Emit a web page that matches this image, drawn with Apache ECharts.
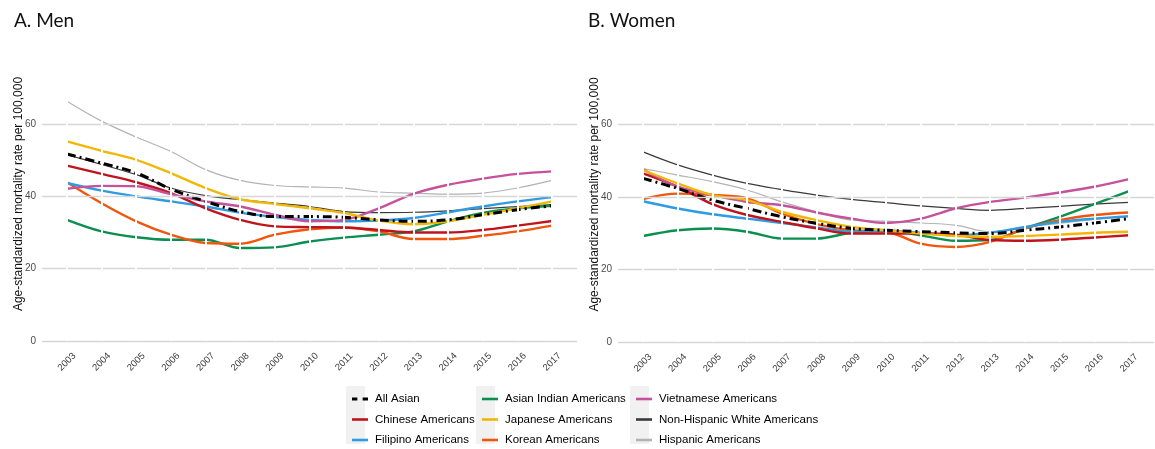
<!DOCTYPE html>
<html>
<head>
<meta charset="utf-8">
<script src="https://cdn.jsdelivr.net/npm/echarts@6/dist/echarts.min.js"></script>
<style>
  html, body { margin: 0; padding: 0; background: #fff; }
  #chart { width: 1155px; height: 449px; }
</style>
</head>
<body>
<div id="chart"></div>
<script>
// Years on the x axis
const years = [2003, 2004, 2005, 2006, 2007, 2008, 2009, 2010, 2011, 2012, 2013, 2014, 2015, 2016, 2017];
const yTicks = [0, 20, 40, 60];

// Age-standardized mortality rate per 100,000 — men
const menAllAsian   = [51.7, 49.2, 46.5, 42.0, 38.6, 35.8, 34.4, 34.4, 34.2, 33.5, 33.1, 33.5, 34.9, 36.3, 37.4];
const menChinese    = [48.5, 46.2, 43.9, 40.9, 36.7, 33.5, 31.7, 31.5, 31.4, 30.7, 30.0, 30.0, 30.7, 31.9, 33.2];
const menFilipino   = [43.7, 41.6, 40.0, 38.6, 37.2, 35.5, 34.3, 33.5, 33.1, 33.3, 34.0, 35.6, 37.2, 38.6, 39.8];
const menIndian     = [33.5, 30.3, 28.7, 28.0, 28.0, 25.7, 25.9, 27.5, 28.6, 29.4, 30.3, 33.1, 35.4, 36.7, 37.4];
const menJapanese   = [55.2, 52.6, 50.1, 46.4, 42.3, 39.2, 37.9, 36.7, 35.4, 33.3, 32.3, 33.1, 34.9, 36.7, 38.6];
const menKorean     = [43.9, 38.1, 33.1, 29.4, 27.1, 26.9, 29.4, 30.9, 31.4, 30.3, 28.2, 28.2, 29.1, 30.3, 31.9];
const menVietnamese = [42.1, 42.9, 42.8, 40.6, 38.6, 37.2, 34.9, 33.1, 33.5, 36.7, 40.7, 43.2, 44.9, 46.2, 46.9];
const menWhite      = [51.5, 48.8, 46.0, 42.3, 40.2, 39.1, 38.1, 37.2, 35.8, 35.5, 35.6, 36.0, 36.6, 37.2, 37.7];
const menHispanic   = [66.3, 60.8, 56.4, 52.4, 47.4, 44.4, 43.0, 42.6, 42.3, 41.2, 40.9, 40.6, 40.9, 42.3, 44.4];

// Age-standardized mortality rate per 100,000 — women
const womenAllAsian   = [45.1, 42.3, 39.1, 36.8, 34.5, 32.7, 31.3, 30.8, 30.4, 30.1, 29.9, 30.8, 31.7, 32.8, 34.0];
const womenChinese    = [46.5, 42.8, 38.0, 35.0, 33.1, 31.3, 29.9, 29.9, 29.9, 29.6, 28.1, 27.9, 28.2, 28.8, 29.4];
const womenFilipino   = [38.8, 36.8, 35.2, 34.0, 32.8, 31.6, 30.4, 30.6, 30.1, 29.4, 30.1, 31.7, 33.1, 34.0, 34.7];
const womenIndian     = [29.2, 30.8, 31.3, 30.4, 28.5, 28.5, 30.1, 30.8, 29.4, 27.9, 28.1, 31.3, 34.5, 38.0, 41.6];
const womenJapanese   = [47.4, 43.7, 40.5, 39.1, 35.9, 33.6, 31.7, 30.8, 29.9, 29.2, 29.0, 29.2, 29.6, 30.1, 30.4];
const womenKorean     = [39.4, 40.9, 40.5, 39.6, 35.4, 32.5, 30.8, 30.4, 27.1, 26.2, 27.6, 31.3, 33.6, 35.0, 35.7];
const womenVietnamese = [47.6, 42.8, 40.5, 38.6, 37.7, 35.7, 34.0, 32.8, 34.0, 36.8, 38.6, 39.8, 41.2, 42.8, 44.9];
const womenWhite      = [52.4, 48.8, 46.0, 43.7, 42.0, 40.5, 39.3, 38.4, 37.5, 36.8, 36.3, 36.8, 37.4, 38.0, 38.5];
const womenHispanic   = [47.8, 46.0, 44.2, 41.9, 38.6, 35.9, 33.6, 33.3, 32.8, 32.2, 30.4, 31.7, 32.7, 33.8, 34.5];

// Group names, colours and line styles (drawing order: thin reference lines first, All Asian on top)
const groups = [
  { name: 'Hispanic Americans',           men: menHispanic,   women: womenHispanic,   color: '#b3b3b3', width: 1.2, type: 'solid' },
  { name: 'Non-Hispanic White Americans', men: menWhite,      women: womenWhite,      color: '#3a3a3a', width: 1.2, type: 'solid' },
  { name: 'Asian Indian Americans',       men: menIndian,     women: womenIndian,     color: '#0b8f50', width: 2.4, type: 'solid' },
  { name: 'Korean Americans',             men: menKorean,     women: womenKorean,     color: '#f0560c', width: 2.4, type: 'solid' },
  { name: 'Filipino Americans',           men: menFilipino,   women: womenFilipino,   color: '#2f9be2', width: 2.4, type: 'solid' },
  { name: 'Chinese Americans',            men: menChinese,    women: womenChinese,    color: '#c0141c', width: 2.4, type: 'solid' },
  { name: 'Vietnamese Americans',         men: menVietnamese, women: womenVietnamese, color: '#c6529b', width: 2.4, type: 'solid' },
  { name: 'Japanese Americans',           men: menJapanese,   women: womenJapanese,   color: '#f2b705', width: 2.4, type: 'solid' },
  { name: 'All Asian',                    men: menAllAsian,   women: womenAllAsian,   color: '#000000', width: 3,   type: [9, 4, 2, 4] }
];

const legendCols = [
  ['All Asian', 'Chinese Americans', 'Filipino Americans'],
  ['Asian Indian Americans', 'Japanese Americans', 'Korean Americans'],
  ['Vietnamese Americans', 'Non-Hispanic White Americans', 'Hispanic Americans']
];

// Legend keys: a short bar, or two dashes for the dashed series
const keySolid = 'path://M0,0 L16,0 L16,2.6 L0,2.6 Z';
const keyDashed = 'path://M0,0 L5,0 L5,3 L0,3 Z M10,0 L15,0 L15,3 L10,3 Z';

const font = '"Liberation Sans", Arial, sans-serif';
const chart = echarts.init(document.getElementById('chart'), null, { renderer: 'canvas' });

function xAxisFor(gridIndex) {
  return {
    type: 'value', gridIndex, min: 2002.28, max: 2017.72,
    axisLine: { show: false }, axisTick: { show: false }, splitLine: { show: false },
    axisLabel: {
      customValues: years, rotate: 45, align: 'center', verticalAlign: 'middle',
      margin: 21, fontSize: 9.5, color: '#3d3d3d', fontFamily: font,
      formatter: v => String(v)
    }
  };
}
function yAxisFor(gridIndex) {
  return {
    type: 'value', gridIndex, min: 0, max: 81.3,
    name: 'Age-standardized mortality rate per 100,000',
    nameLocation: 'middle', nameGap: 17, nameMoveOverlap: false,
    nameTextStyle: { fontSize: 12, color: '#111', fontFamily: font },
    axisLine: { show: false }, axisTick: { show: false }, splitLine: { show: false },
    axisLabel: { customValues: yTicks, fontSize: 10, color: '#4d4d4d', margin: 6, fontFamily: font }
  };
}

// Background grid: grey horizontal lines broken by white year lines
function gridSeries(idx) {
  return {
    type: 'line', name: '', xAxisIndex: idx, yAxisIndex: idx, data: [], silent: true,
    markLine: {
      silent: true, symbol: 'none', animation: false, label: { show: false },
      data: yTicks.map(v => ({ yAxis: v, lineStyle: { color: '#d6d6d6', width: 1.4, type: 'solid' } }))
        .concat(years.map(y => ({ xAxis: y, lineStyle: { color: '#ffffff', width: 2, type: 'solid' } })))
    }
  };
}

const series = [gridSeries(0), gridSeries(1)];
[['men', 0], ['women', 1]].forEach(([key, idx]) => {
  groups.forEach(g => {
    series.push({
      type: 'line', name: g.name, xAxisIndex: idx, yAxisIndex: idx,
      data: years.map((y, i) => [y, g[key][i]]),
      smooth: 0.35, showSymbol: false, symbol: 'none',
      lineStyle: { color: g.color, width: g.width, type: g.type },
      itemStyle: { color: g.color },
      z: 3
    });
  });
});

const legendLefts = [347, 477, 631];
const legends = legendCols.map((names, c) => ({
  orient: 'vertical', left: legendLefts[c], top: 388, height: 80,
  itemWidth: 16, itemHeight: 12, itemGap: 8.5,
  data: names.map(n => ({ name: n, icon: n === 'All Asian' ? keyDashed : keySolid })),
  textStyle: { fontSize: 11.5, color: '#000', fontFamily: font, padding: [0, 0, 0, 2] },
  selectedMode: false
}));

chart.setOption({
  animation: false,
  backgroundColor: '#ffffff',
  title: [
    { text: 'A. Men', left: 9, top: 6, textStyle: { fontSize: 19, fontWeight: 'normal', color: '#111', fontFamily: 'Lato, "Open Sans", sans-serif' } },
    { text: 'B. Women', left: 583, top: 6, textStyle: { fontSize: 19, fontWeight: 'normal', color: '#111', fontFamily: 'Lato, "Open Sans", sans-serif' } }
  ],
  graphic: [
    { type: 'rect', left: 346, top: 386, shape: { width: 19, height: 58 }, style: { fill: '#f1f1f1' }, z: -1 },
    { type: 'rect', left: 476, top: 386, shape: { width: 19, height: 58 }, style: { fill: '#f1f1f1' }, z: -1 },
    { type: 'rect', left: 630, top: 386, shape: { width: 19, height: 58 }, style: { fill: '#f1f1f1' }, z: -1 }
  ],
  legend: legends,
  grid: [
    { left: 42, right: 1155 - 577, top: 47, bottom: 108 },
    { left: 618, right: 1, top: 47, bottom: 107 }
  ],
  xAxis: [xAxisFor(0), xAxisFor(1)],
  yAxis: [yAxisFor(0), yAxisFor(1)],
  series
});
</script>
</body>
</html>
